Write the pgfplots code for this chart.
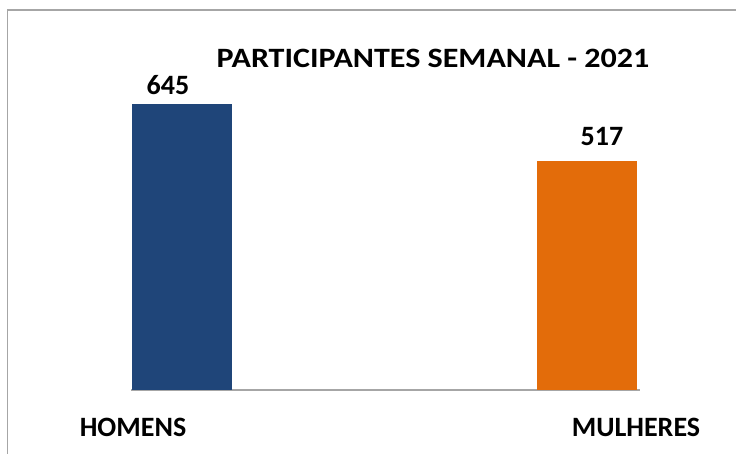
\documentclass[border=0pt]{standalone}
\usepackage{fontspec}
\setmainfont{Carlito}
\usepackage{pgfplots}
\pgfplotsset{compat=1.18}
\definecolor{barblue}{HTML}{1F4579}
\definecolor{barorange}{HTML}{E36C0A}
\definecolor{framegray}{HTML}{A6A6A6}
\newcommand{\lbl}{\fontsize{28}{31}\selectfont\bfseries}
\begin{document}
\begin{tikzpicture}[x=1pt,y=1pt]
\useasboundingbox (0,0) rectangle (736,454);
\clip (0,0) rectangle (736,454);
\fill[white] (0,0) rectangle (736,454);
\draw[framegray, line width=1.5pt] (7.5,-20) -- (7.5,444) -- (760,444);
\node[anchor=base, font=\lbl, xscale=1.145] at (433,386) {PARTICIPANTES SEMANAL - 2021};
\begin{axis}[
  at={(131pt,64pt)}, anchor=south west,
  scale only axis, width=509pt, height=330pt,
  xmin=-0.126, xmax=1.131, ymin=0, ymax=744,
  axis y line=none, axis x line*=bottom,
  x axis line style={draw=framegray, line width=1.5pt, -},
  xtick={-0.121,1.121}, xticklabels={HOMENS,MULHERES},
  major tick length=0pt,
  xticklabel style={font=\lbl, anchor=base, yshift=-47pt},
  /pgf/number format/assume math mode=true,
  ybar, bar width=100pt, bar shift=0pt,
  nodes near coords,
  nodes near coords style={font=\lbl, text=black},
]
\addplot[fill=barblue, draw=none,
  every node near coord/.append style={anchor=base, yshift=9pt, xshift=-14pt}]
  coordinates {(0,645)};
\addplot[fill=barorange, draw=none,
  every node near coord/.append style={anchor=base, yshift=15pt, xshift=15pt}]
  coordinates {(1,517)};
\end{axis}
\end{tikzpicture}
\end{document}
